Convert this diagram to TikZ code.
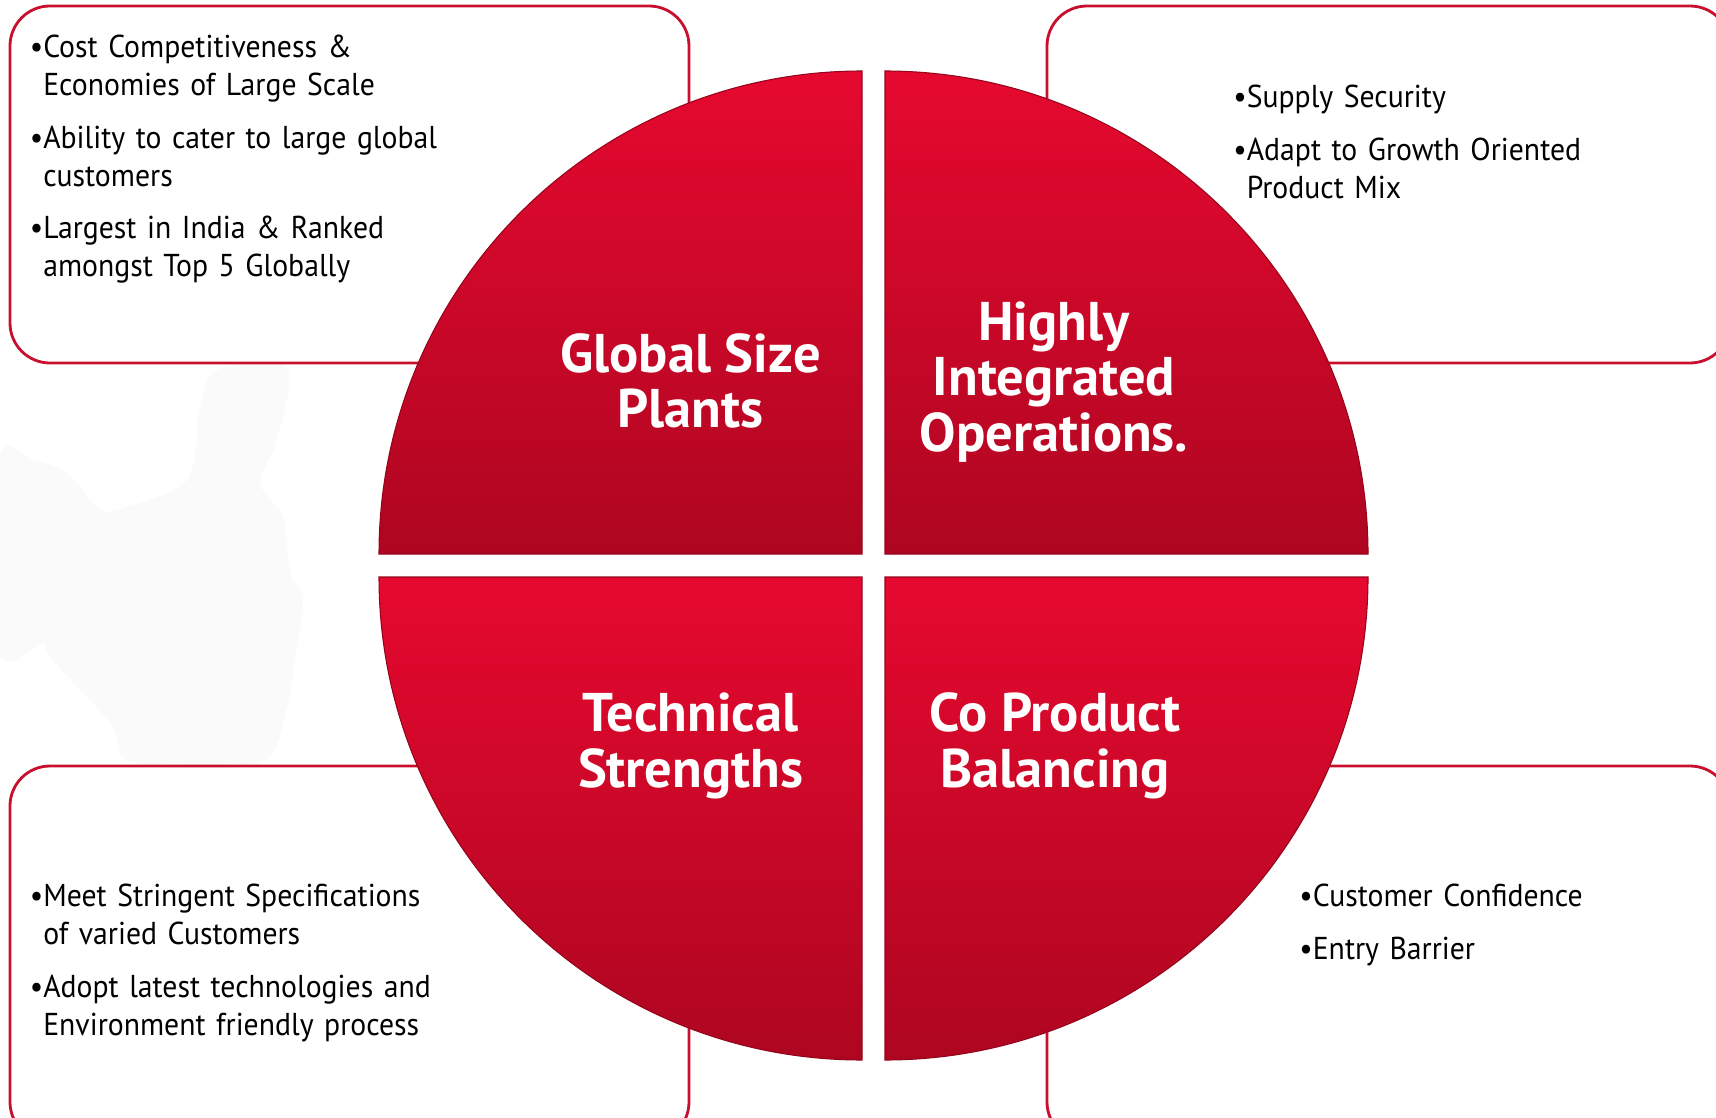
\documentclass[tikz,border=0pt]{standalone}
\usepackage{fontspec}
\setmainfont{PT Sans}
\newfontfamily\bodyfont[FakeStretch=0.94]{PT Sans}
\usetikzlibrary{positioning}

\definecolor{boxline}{HTML}{C8102E}
\definecolor{redtop}{HTML}{E6092F}
\definecolor{redbot}{HTML}{AE0621}

\tikzset{
  infobox/.style={draw=boxline, line width=1.6pt, rounded corners=0.8cm},
  quarter/.style={top color=redtop, bottom color=redbot, draw=redbot!85!black, line width=0.6pt},
  headline/.style={text=white, align=center, font=\bfseries\fontsize{31}{31.8}\selectfont},
  points/.style={anchor=north west, inner sep=0pt, text width=9.4cm, align=left,
    font=\bodyfont\fontsize{18}{21.6}\selectfont\setlength{\parskip}{8.5pt}},
}

% one bullet paragraph, later lines hang under the text
\newcommand{\itm}[1]{\par\setbox0\hbox{\textbullet}\hangindent=\wd0\hangafter=1\leavevmode\box0#1\par}

\begin{document}
\begin{tikzpicture}[x=0.02cm,y=0.02cm]
\useasboundingbox (0,0) rectangle (1716,1117);
\clip (0,0) rectangle (1716,1117);

% faint watermark on the left
\fill[black!2] plot[smooth cycle] coordinates {(0,660) (33,657) (67,644) (97,610) (117,607)
  (187,637) (200,710) (217,747) (287,750) (277,677) (260,634) (283,600) (290,544) (303,517)
  (293,444) (287,410) (260,354) (133,354) (110,394) (50,460) (43,474) (0,464)};

% frames behind the disc
\draw[infobox] (10,1111) rectangle (689,754);
\draw[infobox] (1047,1111) rectangle (1730,754);
\draw[infobox] (10,351) rectangle (689,-25);
\draw[infobox] (1047,351) rectangle (1730,-25);

% four quarters of the disc
\foreach \cx/\cy/\a in {862/563/90, 885/563/0, 862/540/180, 885/540/270}{
  \draw[quarter] (\cx,\cy) -- ++(\a:483) arc[start angle=\a, delta angle=90, radius=483] -- cycle;
}

\node[headline] (glob) at (690.6,736) {Global Size\\Plants};
\node[headline] (integ) at (1054,735) {Highly\\Integrated\\Operations.};
\node[headline] (tech) at (690.6,371) {Technical\\Strengths};
\node[headline] (coprod) at (1055,371) {Co Product\\Balancing};

\node[points] (glob pts) at (29.5,1113) {\itm{Cost Competitiveness \&\newline Economies of Large Scale}
  \itm{Ability to cater to large global\newline customers}
  \itm{Largest in India \& Ranked\newline amongst Top 5 Globally}};
\node[points] (integ pts) at (1233,1063) {\itm{Supply Security}
  \itm{Adapt to Growth Oriented\newline Product Mix}};
\node[points] (tech pts) at (29.5,264) {\itm{Meet Stringent Specifications\newline of varied Customers}
  \itm{Adopt latest technologies and\newline Environment friendly process}};
\node[points] (coprod pts) at (1299,264) {\itm{Customer Confidence}
  \itm{Entry Barrier}};

\end{tikzpicture}
\end{document}
